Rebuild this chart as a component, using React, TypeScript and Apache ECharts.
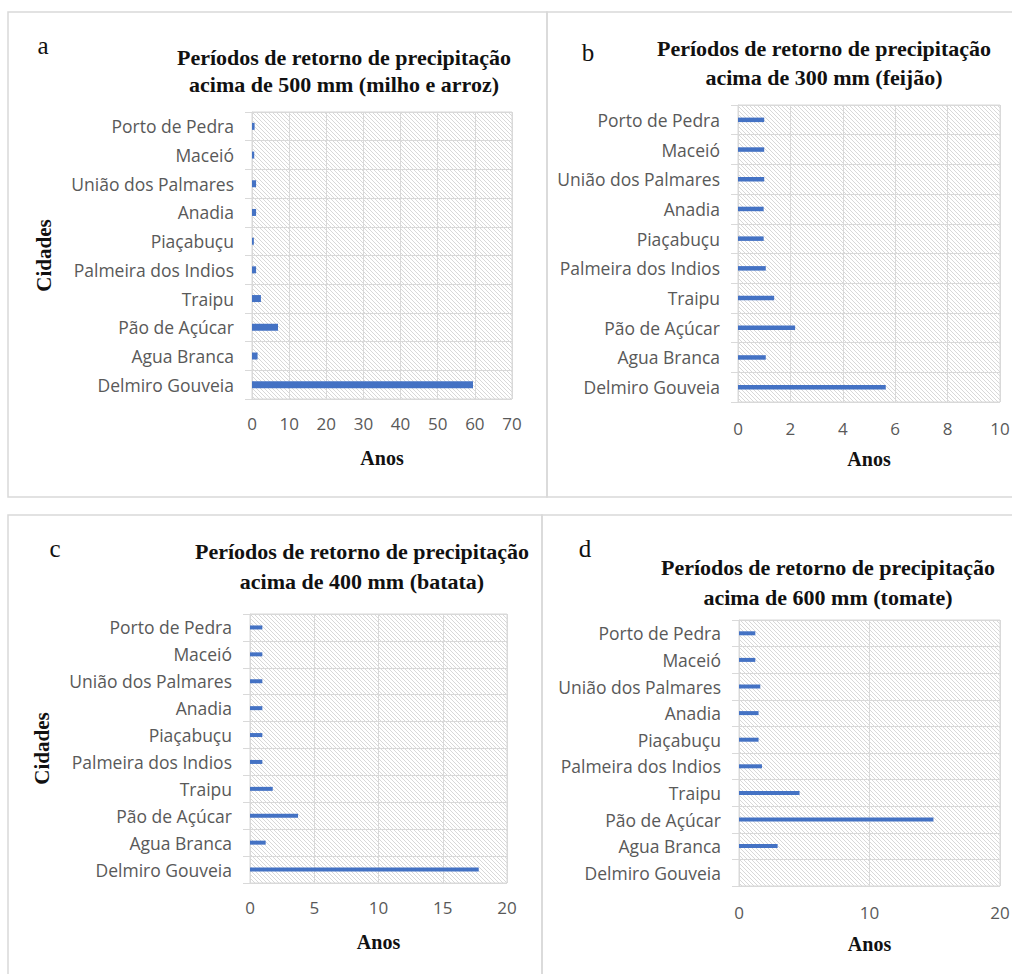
import React, { useEffect, useRef } from "react";
import * as echarts from "echarts";

const cities = [
  "Porto de Pedra",
  "Maceió",
  "União dos Palmares",
  "Anadia",
  "Piaçabuçu",
  "Palmeira dos Indios",
  "Traipu",
  "Pão de Açúcar",
  "Agua Branca",
  "Delmiro Gouveia",
];

const valuesA = [0.7, 0.6, 1.1, 1.1, 0.5, 1.1, 2.4, 7.0, 1.5, 59.5];
const valuesB = [1.0, 1.0, 1.0, 0.98, 0.98, 1.06, 1.38, 2.18, 1.06, 5.64];
const valuesC = [0.96, 0.96, 0.96, 0.96, 0.96, 0.96, 1.77, 3.74, 1.22, 17.8];
const valuesD = [1.25, 1.25, 1.63, 1.5, 1.5, 1.76, 4.64, 14.9, 2.96, 0];

const titlesA = ["Períodos de retorno de precipitação", "acima de 500 mm (milho e arroz)"];
const titlesB = ["Períodos de retorno de precipitação", "acima de 300 mm (feijão)"];
const titlesC = ["Períodos de retorno de precipitação", "acima de 400 mm (batata)"];
const titlesD = ["Períodos de retorno de precipitação", "acima de 600 mm (tomate)"];

const xAxisName = "Anos";
const yAxisName = "Cidades";

const GRID_COLOR = "#d9d9d9";
const TEXT_GRAY = "#595959";
const BAR_COLOR = "#4472C4";
const SANS = "'Open Sans', Lato, sans-serif";
const SERIF = "'Liberation Serif', 'Times New Roman', serif";

function makeHatch(): HTMLCanvasElement {
  const s = 4;
  const c = document.createElement("canvas");
  c.width = s;
  c.height = s;
  const ctx = c.getContext("2d")!;
  ctx.fillStyle = "#ffffff";
  ctx.fillRect(0, 0, s, s);
  ctx.fillStyle = "#d8d8d8";
  for (let i = 0; i < s; i++) ctx.fillRect(i, i, 1, 1);
  return c;
}

export default function App() {
  const ref = useRef<HTMLDivElement>(null);

  useEffect(() => {
    if (!ref.current) return;
    const chart = echarts.init(ref.current, null, { renderer: "svg" });
    const hatch = makeHatch();

    const panels = [
      { grid: { left: 252, top: 112, width: 260, height: 287 }, max: 70, interval: 10, data: valuesA, barWidth: 7, labelMargin: 16, nameGap: 49, yName: true },
      { grid: { left: 738, top: 105, width: 262, height: 297 }, max: 10, interval: 2, data: valuesB, barWidth: 4.5, labelMargin: 18, nameGap: 47, yName: false },
      { grid: { left: 250, top: 614, width: 257, height: 269 }, max: 20, interval: 5, data: valuesC, barWidth: 4, labelMargin: 16, nameGap: 49, yName: true },
      { grid: { left: 739, top: 620, width: 261, height: 266 }, max: 20, interval: 10, data: valuesD, barWidth: 4, labelMargin: 18, nameGap: 48, yName: false },
    ];

    const grids = panels.map((p) => ({
      ...p.grid,
      show: true,
      backgroundColor: { image: hatch, repeat: "repeat" },
      borderColor: GRID_COLOR,
      borderWidth: 1,
      outerBoundsMode: "none",
      containLabel: false,
    }));

    const xAxes = panels.map((p, i) => ({
      type: "value",
      gridIndex: i,
      min: 0,
      max: p.max,
      interval: p.interval,
      axisLine: { show: false },
      axisTick: { show: false },
      splitLine: { show: true, lineStyle: { color: GRID_COLOR, width: 1 } },
      axisLabel: { color: TEXT_GRAY, fontFamily: SANS, fontSize: 17, margin: p.labelMargin },
      name: xAxisName,
      nameLocation: "middle",
      nameGap: p.nameGap,
      nameTextStyle: { fontFamily: SERIF, fontWeight: "bold", fontSize: 20, color: "#111" },
    }));

    const yAxes = panels.map((p, i) => ({
      type: "category",
      gridIndex: i,
      data: cities,
      inverse: true,
      axisLine: { show: true, lineStyle: { color: GRID_COLOR } },
      axisTick: { show: true, length: 7, lineStyle: { color: GRID_COLOR } },
      splitLine: { show: true, lineStyle: { color: GRID_COLOR, width: 1 } },
      axisLabel: { color: TEXT_GRAY, fontFamily: SANS, fontSize: 17.5, margin: 18, interval: 0 },
      name: p.yName ? yAxisName : "",
      nameLocation: "middle",
      nameGap: 198,
      nameRotate: 90,
      nameTextStyle: { fontFamily: SERIF, fontWeight: "bold", fontSize: 21, color: "#111" },
    }));

    const series = panels.map((p, i) => ({
      type: "bar",
      xAxisIndex: i,
      yAxisIndex: i,
      data: p.data,
      barWidth: p.barWidth,
      itemStyle: { color: BAR_COLOR },
    }));

    const txt = (text: string, x: number, y: number, font: string) => ({
      type: "text",
      x,
      y,
      style: {
        text,
        font,
        fill: "#111",
        align: "center",
        verticalAlign: "middle",
        textAlign: "center",
        textVerticalAlign: "middle",
      },
    });

    const titleFont = `bold 22px ${SERIF}`;
    const letterFont = `25px ${SERIF}`;
    const border = { fill: "none", stroke: GRID_COLOR, lineWidth: 1.5 };

    const graphic = [
      { type: "rect", shape: { x: 8, y: 12, width: 539, height: 485 }, style: border },
      { type: "rect", shape: { x: 547, y: 12, width: 470, height: 485 }, style: border },
      { type: "rect", shape: { x: 8, y: 515, width: 534, height: 470 }, style: border },
      { type: "rect", shape: { x: 542, y: 515, width: 475, height: 470 }, style: border },
      txt("a", 43, 45, letterFont),
      txt("b", 588, 52, letterFont),
      txt("c", 55, 548, letterFont),
      txt("d", 585, 548, letterFont),
      txt(titlesA[0], 344, 57, titleFont),
      txt(titlesA[1], 344, 84, titleFont),
      txt(titlesB[0], 824, 48, titleFont),
      txt(titlesB[1], 824, 77, titleFont),
      txt(titlesC[0], 362, 551, titleFont),
      txt(titlesC[1], 362, 581, titleFont),
      txt(titlesD[0], 828, 567, titleFont),
      txt(titlesD[1], 828, 597, titleFont),
    ];

    chart.setOption({
      animation: false,
      backgroundColor: "#ffffff",
      grid: grids,
      xAxis: xAxes,
      yAxis: yAxes,
      series,
      graphic,
    } as any);

    return () => chart.dispose();
  }, []);

  return (
    <div
      ref={ref}
      style={{ position: "absolute", left: 0, top: 0, width: 1012, height: 974 }}
    />
  );
}
